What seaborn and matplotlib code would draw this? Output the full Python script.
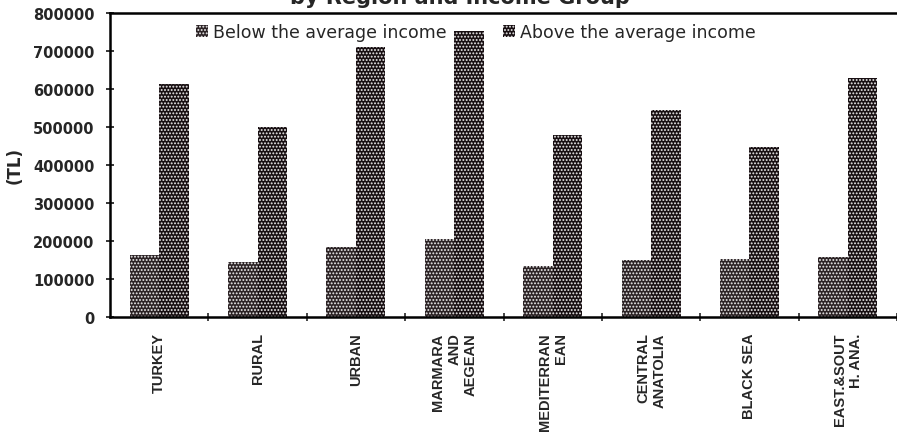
import matplotlib
matplotlib.use("Agg")
import matplotlib.pyplot as plt
import seaborn as sns
import pandas as pd
from matplotlib.ticker import FixedLocator

# values (TL)
regions = ['TURKEY', 'RURAL', 'URBAN', 'MARMARA\nAND\nAEGEAN', 'MEDITERRAN\nEAN',
           'CENTRAL\nANATOLIA', 'BLACK SEA', 'EAST.&SOUT\nH. ANA.']
below_avg = [164000, 145000, 184000, 206000, 135000, 150000, 153000, 157000]
above_avg = [612000, 500000, 710000, 753000, 480000, 544000, 448000, 630000]
groups = ['Below the average income', 'Above the average income']
yticks = [0, 100000, 200000, 300000, 400000, 500000, 600000, 700000, 800000]

df = pd.DataFrame({
    'region': regions * 2,
    'group': [groups[0]] * len(regions) + [groups[1]] * len(regions),
    'value': below_avg + above_avg,
})

sns.set_style('white')
plt.rcParams['font.family'] = ['DejaVu Sans']
plt.rcParams['hatch.linewidth'] = 0.9

fig = plt.figure(figsize=(8.97, 4.39), dpi=100)
ax = fig.add_axes([110 / 897, 1 - 318 / 439, 787 / 897, 304 / 439])

sns.barplot(data=df, x='region', y='value', hue='group', hue_order=groups,
            palette=['#2e2124', '#1a0d11'], width=0.6, gap=0,
            legend=False, ax=ax)

# stipple pattern like the original print
for cont, hatch in zip(ax.containers, ['.....', '.....']):
    for p in cont.patches:
        p.set_hatch(hatch)
        p.set_edgecolor('#eeeeee')
        p.set_linewidth(0)

ax.set_xlim(-0.5, 7.39)
ax.set_ylim(0, 800000)
ax.yaxis.set_major_locator(FixedLocator(yticks))
ax.set_yticklabels([str(v) for v in yticks], fontsize=10.5, fontweight='bold')
ax.tick_params(axis='y', direction='inout', length=6, width=1.3, pad=8, left=True)

# category labels centred, small crossing ticks on category borders
ax.tick_params(axis='x', which='major', length=0, pad=11)
ax.set_xticks([i + 0.5 for i in range(len(regions))], minor=True)
ax.tick_params(axis='x', which='minor', direction='inout', length=6, width=1.2, bottom=True)
for lab in ax.get_xticklabels():
    lab.set_rotation(90)
    lab.set_va('top')
    lab.set_ha('center')
    lab.set_multialignment('right')
    lab.set_family('Liberation Sans')
    lab.set_fontsize(10.5)
    lab.set_fontweight('bold')

ax.set_xlabel('')
ax.set_ylabel('(TL)', fontsize=12, fontweight='bold', labelpad=7)

for side in ['left', 'bottom', 'top']:
    ax.spines[side].set_visible(True)
    ax.spines[side].set_color('black')
    ax.spines[side].set_linewidth(1.8)
ax.spines['right'].set_visible(False)

ax.legend(ax.containers, groups, loc='center', bbox_to_anchor=(0.465, 0.9375),
          ncol=2, frameon=False, fontsize=12.5, handlelength=0.7, handleheight=0.7,
          handletextpad=0.3, columnspacing=3.2)

fig.text(0.513, 0.991, 'by Region and Income Group', ha='center', va='baseline',
         fontsize=15, fontweight='bold')

fig.savefig('out.png', dpi=100)
